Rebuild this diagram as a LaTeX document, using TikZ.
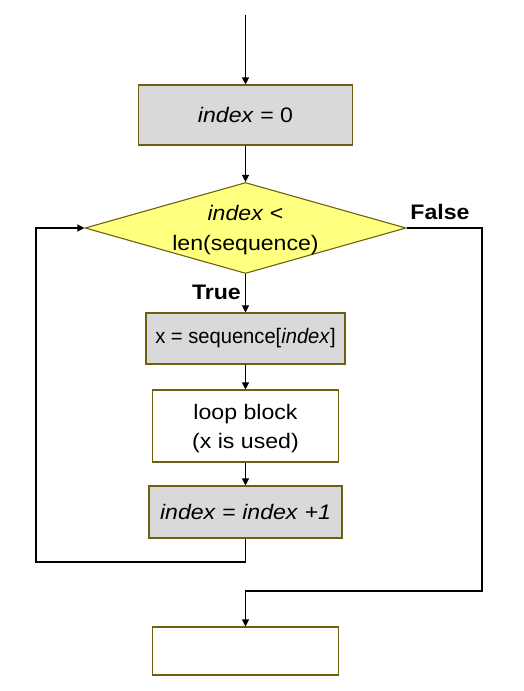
\documentclass[tikz,border=0pt]{standalone}
\usepackage{fontspec}
\setmainfont{Liberation Sans}[FakeStretch=1.1]
\newfontfamily\narrowfont{Liberation Sans}[FakeStretch=0.96]
\usetikzlibrary{shapes.geometric,arrows.meta}
\definecolor{boxline}{RGB}{110,96,16}
\definecolor{boxgray}{RGB}{217,217,217}
\definecolor{diayellow}{RGB}{255,255,128}
\tikzset{
  basebox/.style={draw=boxline, line width=1.1pt, inner sep=0pt, align=center,
    font=\fontsize{21}{29}\selectfont},
  graybox/.style={basebox, fill=boxgray},
  whitebox/.style={basebox, fill=white},
  decision/.style={diamond, draw=boxline, line width=1.1pt, fill=diayellow, inner sep=0pt},
  conn/.style={line width=1.2pt, draw=black},
  arr/.style={conn, -{Triangle[length=7pt,width=7pt]}},
  lbl/.style={font=\fontsize{21}{25}\selectfont\bfseries, inner sep=0pt}
}
\begin{document}
\begin{tikzpicture}[x=1pt,y=-1pt]
\useasboundingbox (0,0) rectangle (523,691);
\coordinate (start) at (245.5,15);
\node[graybox, minimum width=214pt, minimum height=60pt] (b1) at (245.5,115) {\textit{index} = 0};
\node[decision, minimum width=321pt, minimum height=91pt] (d) at (245.5,228) {};
\node[align=center, inner sep=0pt, font=\fontsize{21}{30}\selectfont] (dt) at (245.5,230) {\textit{index} {<}\\len(sequence)};
\node[graybox, minimum width=199pt, minimum height=51pt] (b2) at (245.5,338.5) {{\narrowfont x = sequence[\textit{index}]}};
\node[whitebox, minimum width=186pt, minimum height=72pt] (b3) at (245.5,426) {};
\node[align=center, inner sep=0pt, font=\fontsize{21}{29}\selectfont] (b3t) at (245.5,428.5) {loop block\\(x is used)};
\node[graybox, minimum width=193pt, minimum height=52pt] (b4) at (245.5,512) {\textit{index} = \textit{index} \textit{+1}};
\node[whitebox, minimum width=186pt, minimum height=48pt] (b5) at (245.5,651) {};
\node[lbl] (lf) at (440,212) {False};
\node[lbl, anchor=east] (lt) at (241,292) {True};
\coordinate (lb) at (36,562);
\coordinate (fr) at (482,591);
\draw[arr] (start) -- (b1.north);
\draw[arr] (b1.south) -- (d.north);
\draw[arr] (d.south) -- (b2.north);
\draw[arr] (b2.south) -- (b3.north);
\draw[arr] (b3.south) -- (b4.north);
\draw[arr] (b4.south) |- (lb) |- (d.west);
\draw[arr] (d.east) -| (fr) -| (b5.north);
\end{tikzpicture}
\end{document}
